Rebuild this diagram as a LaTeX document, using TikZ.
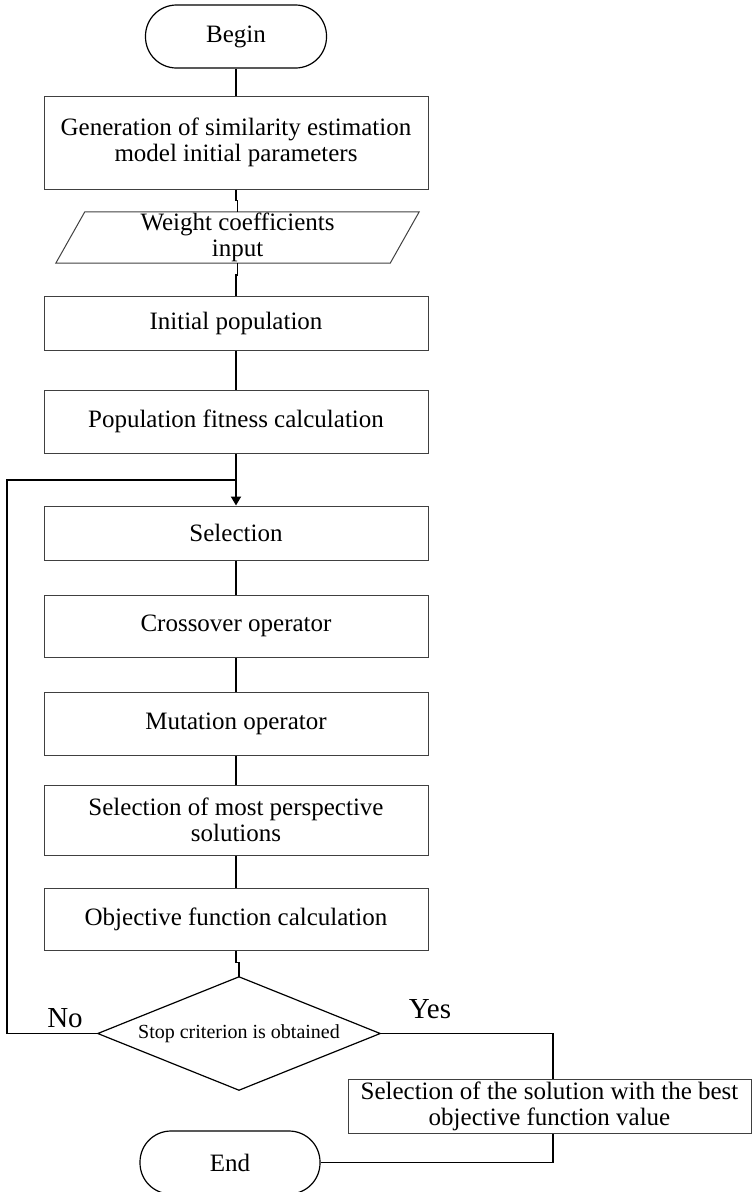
\documentclass[tikz,border=0pt]{standalone}
\usepackage{fontspec}
\setmainfont{Liberation Serif}
\usetikzlibrary{arrows.meta}
\begin{document}
\begin{tikzpicture}[x=1pt,y=-1pt,
  every node/.style={font=\fontsize{25}{26}\selectfont, align=center, inner sep=0pt},
  procbox/.style={draw=black!75, line width=1pt, minimum width=384pt},
  termbox/.style={draw=black, line width=1.2pt, rounded corners=31pt, minimum width=181pt, minimum height=63pt},
  conn/.style={draw=black, line width=1.8pt},
  lbl/.style={font=\fontsize{29}{30}\selectfont}
]
\useasboundingbox (0,0) rectangle (752,1192);

\node[termbox] (begin) at (236,36.5) {Begin};
\node[procbox, minimum height=93pt] (gen) at (236,142.5) {Generation of similarity estimation\\model initial parameters};
\node[minimum width=334pt, minimum height=51pt] (par) at (237.5,237.5) {Weight coefficients\\input};
\draw[black!75, line width=1pt] ([xshift=14.5pt]par.north west) -- ([xshift=14.5pt]par.north east)
  -- ([xshift=-14.5pt]par.south east) -- ([xshift=-14.5pt]par.south west) -- cycle;
\node[procbox, minimum height=54pt] (init) at (236,323) {Initial population};
\node[procbox, minimum height=63pt] (fit) at (236,421.5) {Population fitness calculation};
\node[procbox, minimum height=54pt] (sel) at (236,533) {Selection};
\node[procbox, minimum height=62pt] (cross) at (236,626) {Crossover operator};
\node[procbox, minimum height=63pt] (mut) at (236,723.5) {Mutation operator};
\node[procbox, minimum height=70pt] (persp) at (236,820) {Selection of most perspective\\solutions};
\node[procbox, minimum height=62pt] (obj) at (236,919) {Objective function calculation};
\node[minimum width=282pt, minimum height=113pt, font=\fontsize{20}{21}\selectfont] (dia) at (239,1033.5) {Stop criterion is obtained};
\draw[black, line width=1.2pt] (dia.north) -- (dia.east) -- (dia.south) -- (dia.west) -- cycle;
\node[procbox, minimum width=403pt, minimum height=54pt] (fin) at (549.5,1106) {Selection of the solution with the best\\objective function value};
\node[termbox, minimum width=180pt] (end) at (230,1162.5) {End};

\node[lbl] (no) at (65,1018) {No};
\node[lbl] (yes) at (430,1009) {Yes};

\coordinate (junc) at (236,480);
\coordinate (loopc) at (7,480);

\draw[conn] (begin.south) -- (gen.north);
\draw[conn] (gen.south) -- ++(0,11) -| (par.north);
\draw[conn] (par.south) -- ++(0,12) -| (init.north);
\draw[conn] (init.south) -- (fit.north);
\draw[conn, -{Triangle[length=9pt,width=10pt]}] (fit.south) -- (sel.north);
\draw[conn] (sel.south) -- (cross.north);
\draw[conn] (cross.south) -- (mut.north);
\draw[conn] (mut.south) -- (persp.north);
\draw[conn] (persp.south) -- (obj.north);
\draw[conn] (obj.south) -- ++(0,12) -| (dia.north);
\draw[conn] (dia.west) -| (loopc) -- (junc);
\draw[conn] (dia.east) -| ([xshift=3.5pt]fin.north);
\draw[conn] (end.east) -| ([xshift=3.5pt]fin.south);
\end{tikzpicture}
\end{document}
